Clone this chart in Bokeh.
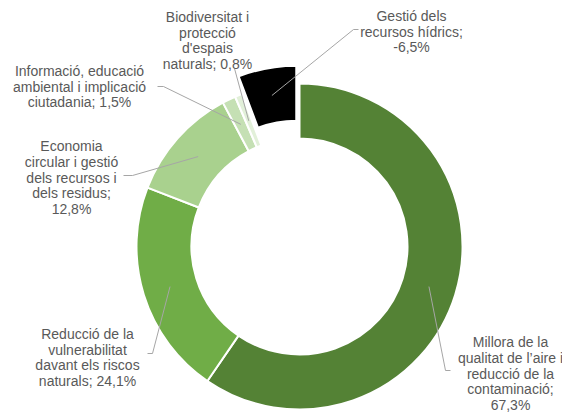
import math
from bokeh.plotting import figure
from bokeh.models import Range1d
from bokeh.embed import file_html
from bokeh.resources import INLINE
from bokeh.core.properties import value

# ---- data ----
categories = [
    "Millora de la\nqualitat de l’aire i\nreducció de la\ncontaminació",
    "Reducció de la\nvulnerabilitat\ndavant els riscos\nnaturals",
    "Economia\ncircular i gestió\ndels recursos i\ndels residus",
    "Informació, educació\nambiental i implicació\nciutadania",
    "Biodiversitat i\nprotecció\nd'espais\nnaturals",
    "Gestió dels\nrecursos hídrics",
]
values = [67.3, 24.1, 12.8, 1.5, 0.8, -6.5]
value_sep = ["\n", " ", "\n", " ", " ", "\n"]
colors = ["#548235", "#70AD47", "#A9D18E", "#C5E0B4", "#E2F0D9", "#000000"]

# ---- layout (screen pixel coordinates of the page) ----
W, H = 562, 412
CX, CY = 299, 246
R_OUT, R_IN = 163, 108
EXPLODE = 18
label_centers = [(510, 373), (87, 357), (71, 177), (79, 86), (207, 40), (411, 31)]
elbows = [
    [(445, 370), (450, 370)],
    [(152, 353), (147, 353)],
    [(132, 175), (123, 175)],
    [(163, 86), (157, 86)],
    [(234, 68)],
    [(353, 29), (358, 29)],
]
LINE_H = 15.8


def dy(y):
    return H - y


p = figure(width=W, height=H, x_range=Range1d(0, W), y_range=Range1d(0, H),
           output_backend="svg", toolbar_location=None,
           x_axis_type=None, y_axis_type=None, min_border=0)
p.outline_line_color = None
p.xgrid.visible = False
p.ygrid.visible = False

total = sum(abs(v) for v in values)
cum = 0.0
for i, v in enumerate(values):
    frac0 = cum / total
    cum += abs(v)
    frac1 = cum / total
    a0 = math.pi / 2 - frac0 * 2 * math.pi
    a1 = math.pi / 2 - frac1 * 2 * math.pi
    amid = (a0 + a1) / 2
    cx, cy = CX, dy(CY)
    if v < 0:
        cx += EXPLODE * math.cos(amid)
        cy += EXPLODE * math.sin(amid)
    p.annular_wedge(x=[cx], y=[cy], inner_radius=R_IN, outer_radius=R_OUT,
                    start_angle=a0, end_angle=a1, direction="clock",
                    fill_color=colors[i], line_color="white", line_width=2)
    # leader line from ring midpoint to label
    rm = (R_IN + R_OUT) / 2
    sx = cx + rm * math.cos(amid)
    sy = cy + rm * math.sin(amid)
    xs = [sx] + [e[0] for e in elbows[i]]
    ys = [sy] + [dy(e[1]) for e in elbows[i]]
    p.line(xs, ys, line_color="#A6A6A6", line_width=1)

# labels
for i, v in enumerate(values):
    txt = categories[i] + ";" + value_sep[i] + ("%.1f" % v).replace(".", ",") + "%"
    lines = txt.split("\n")
    lx, ly = label_centers[i]
    n = len(lines)
    xs, ys = [], []
    for k, _ in enumerate(lines):
        xs.append(lx)
        ys.append(dy(ly + (k - (n - 1) / 2) * LINE_H))
    p.text(x=xs, y=ys, text=lines, text_align="center", text_baseline="middle",
           text_font=value("Liberation Sans"), text_font_size="14px",
           text_color="#595959")

open("out.html", "w").write(file_html(p, INLINE))
